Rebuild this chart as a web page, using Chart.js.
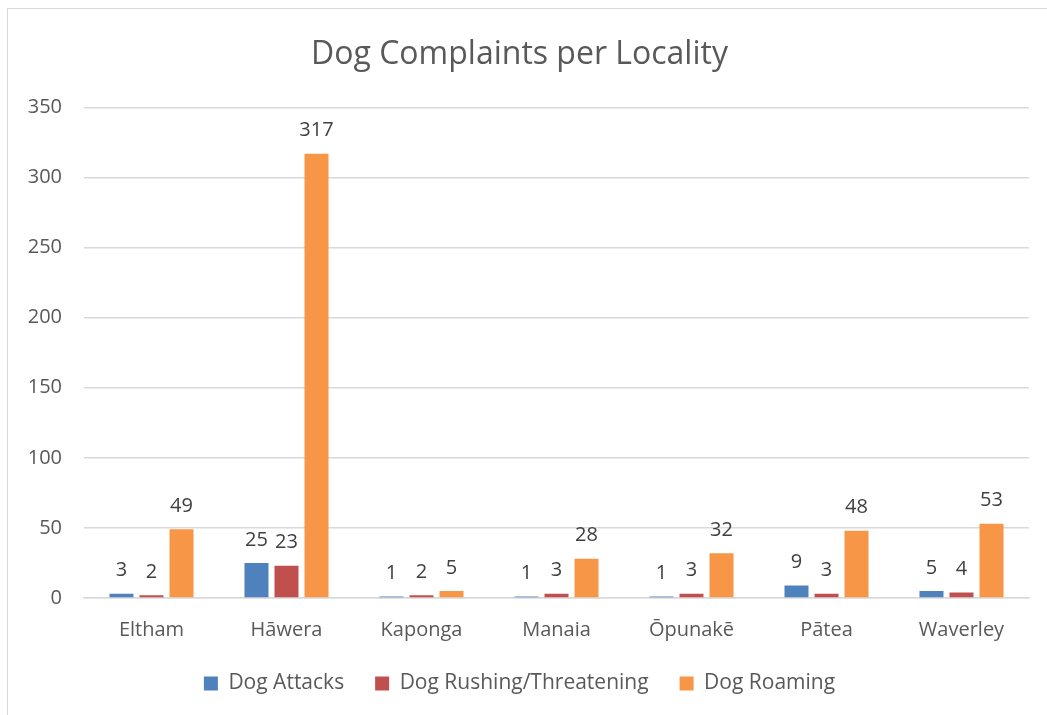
<!DOCTYPE html>
<html>
<head>
<meta charset="utf-8">
<script src="https://cdn.jsdelivr.net/npm/chart.js@4"></script>
<style>
  html, body { margin: 0; padding: 0; background: #fff; overflow: hidden; }
  #wrap { position: relative; width: 1047px; height: 715px; }
  #frame { position: absolute; left: 7px; top: 8px; width: 1100px; height: 800px; border: 1px solid #d9d9d9; box-sizing: border-box; }
  canvas { position: absolute; left: 0; top: 0; }
</style>
</head>
<body>
<div id="wrap">
  <div id="frame"></div>
  <canvas id="c" width="1047" height="715"></canvas>
</div>
<script>
const categories = ["Eltham", "Hāwera", "Kaponga", "Manaia", "Ōpunakē", "Pātea", "Waverley"];
const dogAttacks = [3, 25, 1, 1, 1, 9, 5];
const dogRushing = [2, 23, 2, 3, 3, 3, 4];
const dogRoaming = [49, 317, 5, 28, 32, 48, 53];
const seriesNames = ["Dog Attacks", "Dog Rushing/Threatening", "Dog Roaming"];
const yTicks = [0, 50, 100, 150, 200, 250, 300, 350];

const FONT = "'Open Sans', 'Noto Sans', sans-serif";
const TEXT = "#595959";

const valueLabels = {
  id: 'valueLabels',
  afterDatasetsDraw(chart) {
    const ctx = chart.ctx;
    ctx.save();
    ctx.font = "20px " + FONT;
    ctx.fillStyle = "#404040";
    ctx.textAlign = "center";
    ctx.textBaseline = "bottom";
    chart.data.datasets.forEach((ds, i) => {
      const meta = chart.getDatasetMeta(i);
      meta.data.forEach((bar, j) => {
        ctx.fillText(String(ds.data[j]), bar.x, bar.y - 13);
      });
    });
    ctx.restore();
  }
};

new Chart(document.getElementById('c'), {
  type: 'bar',
  data: {
    labels: categories,
    datasets: [
      { label: seriesNames[0], data: dogAttacks, backgroundColor: "#4F81BD" },
      { label: seriesNames[1], data: dogRushing, backgroundColor: "#C0504D" },
      { label: seriesNames[2], data: dogRoaming, backgroundColor: "#F79646" }
    ]
  },
  options: {
    responsive: false,
    animation: false,
    devicePixelRatio: 1,
    datasets: { bar: { categoryPercentage: 0.667, barPercentage: 0.8 } },
    layout: { padding: { left: 10, right: 18, top: 10, bottom: 11 } },
    plugins: {
      title: {
        display: true,
        text: "Dog Complaints per Locality",
        color: TEXT,
        font: { family: FONT, size: 32, weight: 'normal' },
        padding: { top: 26, bottom: 33 }
      },
      legend: {
        position: 'bottom',
        labels: {
          color: TEXT,
          font: { family: FONT, size: 21 },
          boxWidth: 14,
          boxHeight: 14,
          padding: 31
        }
      },
      tooltip: { enabled: false }
    },
    scales: {
      x: {
        grid: { display: false },
        border: { color: "#d9d9d9", width: 1.5 },
        ticks: { color: TEXT, font: { family: FONT, size: 20 }, padding: 12 },
        afterFit(scale) {
          scale.height -= 12;
          scale._computeLabelArea = () => undefined;
        }
      },
      y: {
        min: 0, max: 350,
        afterBuildTicks(scale) { scale.ticks = yTicks.map(v => ({ value: v })); },
        afterFit(scale) { scale.width = 74; },
        grid: { color: "#d9d9d9", lineWidth: 1.5, drawTicks: false },
        border: { display: false },
        ticks: { color: TEXT, font: { family: FONT, size: 20 }, padding: 22 }
      }
    }
  },
  plugins: [valueLabels]
});
</script>
</body>
</html>
